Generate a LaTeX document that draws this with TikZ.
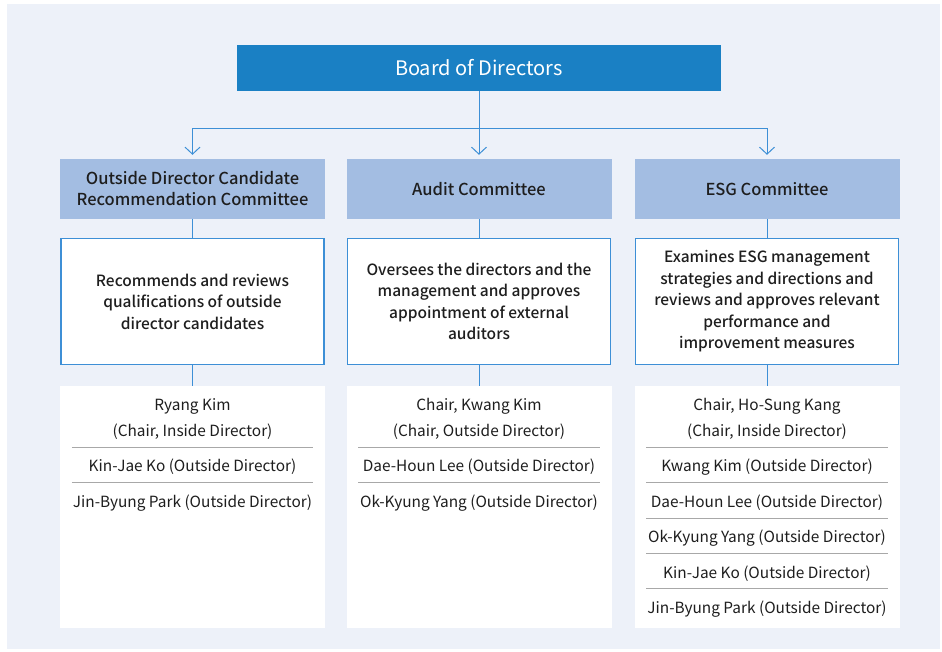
\documentclass[tikz,border=0pt]{standalone}
\usepackage{fontspec}
\IfFontExistsTF{Noto Sans CJK KR Medium}
  {\setmainfont{Noto Sans CJK KR}[BoldFont={Noto Sans CJK KR Medium}]}
  {\setmainfont{Noto Sans CJK KR}}
\usetikzlibrary{arrows.meta,positioning}
\definecolor{panel}{HTML}{EDF1F9}
\definecolor{board}{HTML}{1A80C4}
\definecolor{cmte}{HTML}{A3BDE2}
\definecolor{wire}{HTML}{3D8FD6}
\definecolor{rule}{HTML}{A8A8A8}
\definecolor{ink}{HTML}{1E1E1E}
\tikzset{
  boardbox/.style={
    fill=board,
    text=white,
    minimum width=484pt,
    minimum height=46pt,
    inner sep=0pt,
    font=\fontsize{20}{22}\selectfont
  },
  cmtebox/.style={
    fill=cmte,
    text=ink,
    minimum width=265pt,
    minimum height=60pt,
    inner sep=0pt,
    align=center,
    font=\fontsize{16.5}{21}\selectfont\bfseries
  },
  dutybox/.style={
    draw=wire,
    line width=1.2pt,
    fill=white,
    text=ink,
    minimum width=263pt,
    minimum height=126pt,
    inner sep=0pt,
    align=center,
    font=\fontsize{15.5}{21.5}\selectfont\bfseries
  },
  memberbox/.style={
    fill=white,
    minimum width=265pt,
    minimum height=242pt,
    inner sep=0pt
  },
  entry/.style={
    text=ink,
    minimum width=241pt,
    minimum height=35pt,
    inner sep=0pt,
    text height=18pt,
    text depth=4pt,
    align=center,
    font=\fontsize{15.4}{26}\selectfont
  },
  chairentry/.style={entry, minimum height=61pt, text height=44pt},
  sepline/.style={draw=rule, line width=0.8pt},
  wireline/.style={draw=wire, line width=1pt},
  feed/.style={wireline, shorten >=4pt, -{Straight Barb[length=7pt,width=15pt,line width=1pt]}}
}

\begin{document}
\begin{tikzpicture}[x=1pt,y=-1pt]
\path[use as bounding box] (0,0) rectangle (942,651);
\fill[white] (0,0) rectangle (942,651);
\fill[panel] (7,4) rectangle (940,649);

\node[boardbox] (board) at (479,68) {Board of Directors};

\node[cmtebox] (cmA) at (192.5,189) {Outside Director Candidate\\Recommendation Committee};
\node[cmtebox] (cmB) at (479,189) {Audit Committee};
\node[cmtebox] (cmC) at (767,189) {ESG Committee};

\node[dutybox] (dsA) at (192.5,301.5) {Recommends and reviews\\qualifications of outside\\director candidates};
\node[dutybox] (dsB) at (479,301.5) {Oversees the directors and the\\management and approves\\appointment of external\\auditors};
\node[dutybox] (dsC) at (767,301.5) {Examines ESG management\\strategies and directions and\\reviews and approves relevant\\performance and\\improvement measures};

\node[memberbox] (mbA) at (192.5,507) {};
\node[memberbox] (mbB) at (479,507) {};
\node[memberbox] (mbC) at (767,507) {};

\node[chairentry, anchor=north] (a1) at (mbA.north) {Ryang Kim\\(Chair, Inside Director)};
\node[entry, below=0pt of a1] (a2) {Kin-Jae Ko (Outside Director)};
\node[entry, below=0pt of a2] (a3) {Jin-Byung Park (Outside Director)};

\node[chairentry, anchor=north] (b1) at (mbB.north) {Chair, Kwang Kim\\(Chair, Outside Director)};
\node[entry, below=0pt of b1] (b2) {Dae-Houn Lee (Outside Director)};
\node[entry, below=0pt of b2] (b3) {Ok-Kyung Yang (Outside Director)};

\node[chairentry, anchor=north] (c1) at (mbC.north) {Chair, Ho-Sung Kang\\(Chair, Inside Director)};
\node[entry, below=0pt of c1] (c2) {Kwang Kim (Outside Director)};
\node[entry, below=0pt of c2] (c3) {Dae-Houn Lee (Outside Director)};
\node[entry, below=0pt of c3] (c4) {Ok-Kyung Yang (Outside Director)};
\node[entry, below=0pt of c4] (c5) {Kin-Jae Ko (Outside Director)};
\node[entry, below=0pt of c5] (c6) {Jin-Byung Park (Outside Director)};

\foreach \e in {a1,a2,b1,b2,c1,c2,c3,c4,c5}
  \draw[sepline] (\e.south west) -- (\e.south east);

\coordinate (split) at (479,128);
\draw[wireline] (board) -- (split);
\draw[feed] (split) -| (cmA);
\draw[feed] (split) -- (cmB);
\draw[feed] (split) -| (cmC);

\foreach \c/\d/\m in {cmA/dsA/mbA,cmB/dsB/mbB,cmC/dsC/mbC}{
  \draw[wireline] (\c) -- (\d);
  \draw[wireline] (\d) -- (\m);
}

\end{tikzpicture}
\end{document}
